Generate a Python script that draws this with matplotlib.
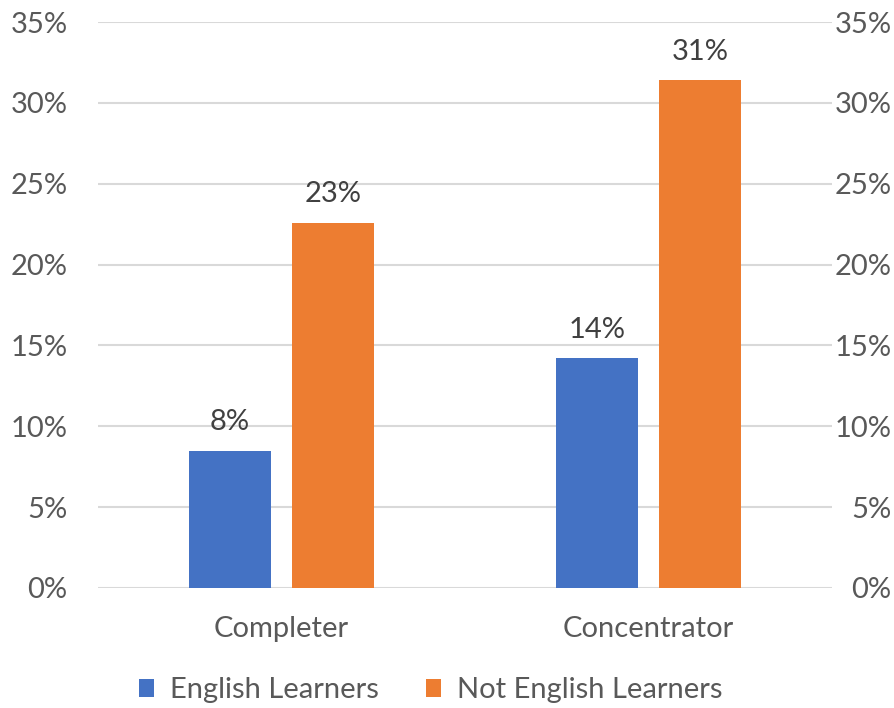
import matplotlib
matplotlib.use("Agg")
import matplotlib.pyplot as plt
import numpy as np
from matplotlib.ticker import FuncFormatter, MultipleLocator

categories = ["Completer", "Concentrator"]
series_names = ["English Learners", "Not English Learners"]
english_learners = [8.5, 14.2]
not_english_learners = [22.6, 31.4]
labels_el = ["8%", "14%"]
labels_nel = ["23%", "31%"]
colors = ["#4472C4", "#ED7D31"]

plt.rcParams['font.family'] = ['Lato', 'DejaVu Sans']
text_color = "#595959"
fs = 21

fig = plt.figure(figsize=(8.94, 7.08), dpi=100)
ax = fig.add_axes([0.1096, 0.1695, 0.821, 0.7994])

x = np.arange(len(categories))
w = 0.223
off = 0.141
b1 = ax.bar(x - off, english_learners, w, color=colors[0], label=series_names[0], zorder=3)
b2 = ax.bar(x + off, not_english_learners, w, color=colors[1], label=series_names[1], zorder=3)

for bars, labs in ((b1, labels_el), (b2, labels_nel)):
    for r, t in zip(bars, labs):
        ax.annotate(t, (r.get_x() + r.get_width() / 2, r.get_height()),
                    xytext=(0, 11), textcoords="offset points", ha="center", va="bottom",
                    fontsize=fs, color="#404040")

ax.set_xlim(-0.5, 1.5)
ax.set_ylim(0, 35)
ax.yaxis.set_major_locator(MultipleLocator(5))
fmt = FuncFormatter(lambda v, p: f"{v:.0f}%")
ax.yaxis.set_major_formatter(fmt)
ax.grid(axis="y", color="#D9D9D9", linewidth=1.5, zorder=0)
ax.set_axisbelow(True)
for s in ax.spines.values():
    s.set_visible(False)
ax.set_xticks(x)
ax.set_xticklabels(categories)
ax.tick_params(axis="x", length=0, pad=20, labelsize=fs, labelcolor=text_color)
ax.tick_params(axis="y", length=0, pad=22, labelsize=fs, labelcolor=text_color)

ax2 = ax.twinx()
ax2.set_ylim(0, 35)
ax2.set_yticks(np.arange(0, 36, 5))
ax2.yaxis.set_major_formatter(fmt)
for s in ax2.spines.values():
    s.set_visible(False)
ax2.tick_params(axis="y", length=0, pad=43, labelsize=fs, labelcolor=text_color)
for lab in ax2.get_yticklabels():
    lab.set_horizontalalignment("right")

fig.legend(handles=[b1, b2], labels=series_names, loc="center", bbox_to_anchor=(0.482, 0.025),
           ncol=2, frameon=False, fontsize=fs, labelcolor=text_color,
           handlelength=0.52, handleheight=0.6, handletextpad=0.55, columnspacing=1.6)

fig.savefig("out.png", dpi=100)
